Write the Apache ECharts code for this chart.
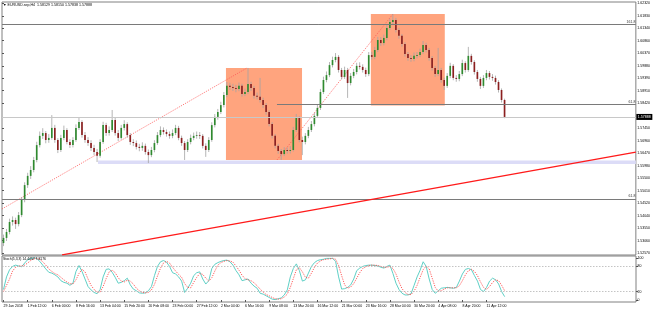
<!DOCTYPE html>
<html><head><meta charset="utf-8">
<script src="https://cdn.jsdelivr.net/npm/echarts@6/dist/echarts.min.js"></script>
<style>html,body{margin:0;padding:0;background:#fff}#c{width:653px;height:311px}</style>
</head><body><div id="c"></div>
<script>
// ---- price data (8-hour candles) ----
const opens = [
1.5297,1.5317,1.5340,1.5379,1.5387,1.5371,1.5406,1.5465,1.5523,1.5559,
1.5582,1.5621,1.5679,1.5715,1.5726,1.5699,1.5707,1.5746,1.5699,1.5660,
1.5707,1.5738,1.5691,1.5679,1.5699,1.5746,1.5769,1.5718,1.5699,1.5687,
1.5668,1.5652,1.5637,1.5691,1.5757,1.5726,1.5738,1.5777,1.5726,1.5707,
1.5746,1.5761,1.5718,1.5691,1.5687,1.5672,1.5668,1.5676,1.5652,1.5640,
1.5660,1.5687,1.5718,1.5738,1.5730,1.5722,1.5715,1.5726,1.5746,1.5707,
1.5687,1.5660,1.5691,1.5707,1.5715,1.5718,1.5715,1.5676,1.5660,1.5699,
1.5757,1.5789,1.5808,1.5835,1.5874,1.5910,1.5906,1.5902,1.5898,1.5910,
1.5878,1.5886,1.5917,1.5902,1.5871,1.5868,1.5855,1.5835,1.5808,1.5761,
1.5715,1.5676,1.5656,1.5644,1.5660,1.5656,1.5660,1.5738,1.5785,1.5699,
1.5691,1.5715,1.5738,1.5761,1.5793,1.5824,1.5886,1.5933,1.5952,1.5991,
1.6011,1.6023,1.5972,1.5945,1.5972,1.5921,1.5949,1.5964,1.5988,1.5984,
1.5972,1.5956,1.6030,1.6023,1.6050,1.6089,1.6077,1.6097,1.6136,1.6159,
1.6167,1.6128,1.6105,1.6073,1.6034,1.6019,1.6015,1.6027,1.6030,1.6042,
1.6069,1.6050,1.6019,1.5980,1.5956,1.5972,1.5933,1.5910,1.5949,1.5988,
1.5941,1.5937,1.5956,1.5999,1.5972,1.6027,1.6003,1.5964,1.5937,1.5910,
1.5941,1.5960,1.5945,1.5941,1.5925,1.5894,1.5855];
const highs = [
1.5330,1.5352,1.5392,1.5401,1.5396,1.5418,1.5476,1.5534,1.5571,1.5597,
1.5633,1.5692,1.5732,1.5745,1.5734,1.5722,1.5796,1.5758,1.5706,1.5719,
1.5755,1.5745,1.5702,1.5710,1.5760,1.5785,1.5776,1.5730,1.5710,1.5698,
1.5680,1.5664,1.5702,1.5770,1.5766,1.5752,1.5816,1.5785,1.5738,1.5758,
1.5776,1.5768,1.5726,1.5702,1.5697,1.5684,1.5690,1.5685,1.5662,1.5672,
1.5698,1.5730,1.5752,1.5748,1.5740,1.5732,1.5740,1.5758,1.5754,1.5716,
1.5695,1.5702,1.5720,1.5728,1.5732,1.5730,1.5722,1.5686,1.5710,1.5768,
1.5800,1.5820,1.5848,1.5886,1.5925,1.5922,1.5918,1.5914,1.5923,1.5918,
1.5899,1.5980,1.5926,1.5910,1.5884,1.5941,1.5864,1.5843,1.5815,1.5768,
1.5722,1.5684,1.5664,1.5671,1.5670,1.5675,1.5750,1.5800,1.5792,1.5712,
1.5726,1.5750,1.5773,1.5805,1.5836,1.5898,1.5946,1.5966,1.6003,1.6024,
1.6038,1.6030,1.5980,1.5985,1.5980,1.5960,1.5976,1.6000,1.6002,1.5994,
1.5981,1.6042,1.6043,1.6062,1.6101,1.6100,1.6110,1.6148,1.6172,1.6190,
1.6175,1.6136,1.6112,1.6080,1.6042,1.6030,1.6040,1.6042,1.6055,1.6085,
1.6078,1.6058,1.6026,1.5988,1.6058,1.5980,1.5942,1.5960,1.6000,1.5995,
1.5952,1.5968,1.6012,1.6006,1.6062,1.6035,1.6010,1.5972,1.5945,1.5952,
1.5972,1.5968,1.5956,1.5950,1.5932,1.5900,1.5860];
const lows = [
1.5285,1.5305,1.5331,1.5365,1.5352,1.5362,1.5398,1.5456,1.5512,1.5547,
1.5573,1.5612,1.5670,1.5703,1.5686,1.5688,1.5700,1.5688,1.5648,1.5652,
1.5698,1.5682,1.5668,1.5670,1.5692,1.5738,1.5708,1.5688,1.5676,1.5656,
1.5640,1.5613,1.5630,1.5684,1.5715,1.5716,1.5730,1.5716,1.5695,1.5700,
1.5736,1.5708,1.5680,1.5675,1.5662,1.5655,1.5657,1.5642,1.5609,1.5632,
1.5651,1.5680,1.5710,1.5720,1.5712,1.5704,1.5706,1.5718,1.5698,1.5676,
1.5621,1.5652,1.5682,1.5698,1.5704,1.5703,1.5666,1.5633,1.5652,1.5692,
1.5748,1.5778,1.5800,1.5826,1.5866,1.5894,1.5890,1.5885,1.5889,1.5868,
1.5870,1.5878,1.5890,1.5860,1.5857,1.5845,1.5824,1.5797,1.5752,1.5705,
1.5666,1.5645,1.5621,1.5636,1.5645,1.5646,1.5654,1.5730,1.5690,1.5640,
1.5682,1.5706,1.5730,1.5752,1.5785,1.5816,1.5878,1.5924,1.5944,1.5982,
1.6002,1.5962,1.5935,1.5937,1.5863,1.5912,1.5940,1.5955,1.5974,1.5962,
1.5945,1.5948,1.6012,1.6014,1.6042,1.6066,1.6068,1.6088,1.6128,1.6148,
1.6118,1.6094,1.6063,1.6024,1.6008,1.6004,1.6006,1.6017,1.6022,1.6034,
1.6040,1.6008,1.5970,1.5945,1.5948,1.5922,1.5894,1.5902,1.5940,1.5932,
1.5926,1.5928,1.5948,1.5962,1.5965,1.5993,1.5954,1.5926,1.5898,1.5902,
1.5932,1.5935,1.5930,1.5915,1.5884,1.5845,1.57838];
const closes = [
1.5317,1.5340,1.5379,1.5387,1.5371,1.5406,1.5465,1.5523,1.5559,1.5582,
1.5621,1.5679,1.5715,1.5726,1.5699,1.5707,1.5746,1.5699,1.5660,1.5707,
1.5738,1.5691,1.5679,1.5699,1.5746,1.5769,1.5718,1.5699,1.5687,1.5668,
1.5652,1.5637,1.5691,1.5757,1.5726,1.5738,1.5777,1.5726,1.5707,1.5746,
1.5761,1.5718,1.5691,1.5687,1.5672,1.5668,1.5676,1.5652,1.5640,1.5660,
1.5687,1.5718,1.5738,1.5730,1.5722,1.5715,1.5726,1.5746,1.5707,1.5687,
1.5660,1.5691,1.5707,1.5715,1.5718,1.5715,1.5676,1.5660,1.5699,1.5757,
1.5789,1.5808,1.5835,1.5874,1.5910,1.5906,1.5902,1.5898,1.5910,1.5878,
1.5886,1.5917,1.5902,1.5871,1.5868,1.5855,1.5835,1.5808,1.5761,1.5715,
1.5676,1.5656,1.5644,1.5660,1.5656,1.5660,1.5738,1.5785,1.5699,1.5691,
1.5715,1.5738,1.5761,1.5793,1.5824,1.5886,1.5933,1.5952,1.5991,1.6011,
1.6023,1.5972,1.5945,1.5972,1.5921,1.5949,1.5964,1.5988,1.5984,1.5972,
1.5956,1.6030,1.6023,1.6050,1.6089,1.6077,1.6097,1.6136,1.6159,1.6167,
1.6128,1.6105,1.6073,1.6034,1.6019,1.6015,1.6027,1.6030,1.6042,1.6069,
1.6050,1.6019,1.5980,1.5956,1.5972,1.5933,1.5910,1.5949,1.5988,1.5941,
1.5937,1.5956,1.5999,1.5972,1.6027,1.6003,1.5964,1.5937,1.5910,1.5941,
1.5960,1.5945,1.5941,1.5925,1.5894,1.5855,1.57888];

// ---- stochastic (5,3,3) ----
const stochMain = [
25,55,72,80,83,81,79,88,96,99, 100,99,92,83,74,66,64,60,55,46,
42,40,35,40,68,82,68,50,32,24, 18,15,25,55,73,74,66,54,40,42,
46,52,36,26,22,17,16,17,22,32, 58,80,91,94,90,80,65,62,55,45,
18,28,40,58,65,67,50,38,46,75, 85,89,92,94,95,91,83,70,60,46,
48,50,40,33,28,16,14,10,6,2, 1,3,5,12,24,55,75,86,70,45,
48,64,80,89,94,96,97,99,99,99, 92,55,26,27,30,36,50,70,76,80,
82,83,83,82,81,78,76,80,83,63, 40,25,16,12,12,15,35,55,71,91,
80,50,25,16,22,28,29,30,29,28, 30,45,62,73,75,72,58,45,25,20,
30,45,52,48,38,20,8];
const stochSignal = [
20,35,50,69,78,81,81,83,88,94, 98,99,97,91,83,74,68,63,60,54,
48,43,39,38,48,63,73,67,50,35, 25,19,19,32,51,67,71,65,53,45,
43,47,45,38,28,22,18,17,18,24, 37,57,76,88,92,88,78,69,61,54,
39,30,29,42,54,63,61,52,45,53, 69,83,89,92,94,93,90,81,71,59,
51,48,46,41,34,26,19,13,10,6, 3,2,3,7,14,30,51,72,77,67,
54,52,64,78,88,93,96,97,98,99, 97,82,58,36,28,31,39,52,65,75,
79,82,83,83,82,80,78,78,80,75, 62,43,27,18,13,13,21,35,54,72,
81,74,52,30,21,22,26,29,29,29, 29,34,46,60,70,73,68,58,43,30,
25,32,42,48,46,35,22];

// ---- axis tick labels ----
const xTickLabels = ["29 Jan 2018","1 Feb 12:00","6 Feb 00:00","8 Feb 16:00","13 Feb 04:00","15 Feb 20:00",
"20 Feb 08:00","23 Feb 00:00","27 Feb 12:00","2 Mar 04:00","6 Mar 16:00","9 Mar 08:00","13 Mar 20:00",
"16 Mar 12:00","21 Mar 00:00","23 Mar 16:00","28 Mar 04:00","30 Mar 20:00","4 Apr 08:00","8 Apr 20:00","11 Apr 12:00"];
const priceTicks = [1.52570,1.53060,1.53550,1.54040,1.54520,1.55010,1.55500,1.55980,1.56470,1.56960,
1.57450,1.58420,1.58910,1.59390,1.59880,1.60370,1.60860,1.61340,1.61830,1.62320];
const stochTicks = [0,20,80,100];
const stochLevels = [20,80];

// ---- drawn objects (x in bar slots, y in price) ----
const zones = [[74.2, 99.4, 1.5980, 1.5621],[122.2, 146.7, 1.6190, 1.5833]];
const supportBand = [31.8, 210, 1.5619, 1.5605];
const fibLevels = [{name:'161.8', price:1.6151, from:0},{name:'61.8', price:1.5839, from:91.1},{name:'61.8', price:1.5469, from:0}];
const trendLine = [[19.9, 1.5251],[210, 1.5652]];
const fibDiag1 = [[0, 1.5430],[81.2, 1.5980]];
const fibDiag2 = [[91.1, 1.5621],[129.5, 1.6190]];

const TOTAL_SLOTS = 210, LABEL_EVERY = 8;
const PRICE_MIN = 1.52504, PRICE_MAX = 1.62371;
const lastPrice = closes[closes.length-1];

const slots = Array.from({length: TOTAL_SLOTS}, (_, i) => String(i));
const candleData = opens.map((o, i) => [i, o, closes[i], lows[i], highs[i]]);
const FONT = 'Liberation Sans';
const isLabelSlot = (idx) => idx % LABEL_EVERY === 0 && idx / LABEL_EVERY < xTickLabels.length;

function renderCandle(params, api) {
  const i = api.value(0), o = api.value(1), c = api.value(2), l = api.value(3), h = api.value(4);
  const pO = api.coord([i, o]), pC = api.coord([i, c]), pL = api.coord([i, l]), pH = api.coord([i, h]);
  const bw = api.size([1, 0])[0] * 0.55;
  const x = pO[0];
  const top = Math.min(pO[1], pC[1]), bot = Math.max(pO[1], pC[1]);
  const up = c >= o;
  return {type: 'group', children: [
    {type: 'line', shape: {x1: x, y1: pH[1], x2: x, y2: pL[1]}, style: {stroke: '#a3a3a3', lineWidth: 0.8}},
    {type: 'rect', shape: {x: x - bw / 2, y: top, width: bw, height: Math.max(bot - top, 0.8)},
     style: {fill: up ? '#2f8a2f' : '#8b1f1f'}}
  ]};
}

const chart = echarts.init(document.getElementById('c'), null, {renderer: 'canvas'});
chart.setOption({
  animation: false,
  backgroundColor: '#ffffff',
  textStyle: {fontFamily: FONT},
  title: [
    {text: '\u25BC EURUSD.sep,H4  1.58129 1.58150 1.57838 1.57888', left: 3, top: 3, padding: 0,
     textStyle: {fontSize: 3.6, fontWeight: 'normal', color: '#000', fontFamily: FONT}},
    {text: 'Stoch(5,3,3) 14.4457 7.8176', left: 3, top: 258, padding: 0,
     textStyle: {fontSize: 3.4, fontWeight: 'normal', color: '#000', fontFamily: FONT}}
  ],
  grid: [
    {left: 2, width: 634, top: 2, height: 253, show: true, borderColor: '#808080', borderWidth: 1, backgroundColor: 'transparent'},
    {left: 2, width: 634, top: 256, height: 46, show: true, borderColor: '#808080', borderWidth: 1, backgroundColor: 'transparent'}
  ],
  xAxis: [
    {type: 'category', gridIndex: 0, data: slots, boundaryGap: true, show: false},
    {type: 'value', gridIndex: 0, min: 0, max: TOTAL_SLOTS, show: false},
    {type: 'category', gridIndex: 1, data: slots, boundaryGap: true,
     axisLine: {show: false},
     axisTick: {show: true, interval: isLabelSlot, length: 2, alignWithLabel: true, lineStyle: {color: '#555'}},
     axisLabel: {interval: isLabelSlot, formatter: (v, idx) => xTickLabels[idx / LABEL_EVERY] || '',
                 align: 'left', fontSize: 3.5, color: '#000', margin: 2.5, fontFamily: FONT},
     splitLine: {show: false}}
  ],
  yAxis: [
    {type: 'value', gridIndex: 0, position: 'right', min: PRICE_MIN, max: PRICE_MAX, scale: true,
     axisLine: {show: false}, splitLine: {show: false},
     axisTick: {show: true, customValues: priceTicks, length: 2, lineStyle: {color: '#555'}},
     axisLabel: {customValues: priceTicks, formatter: v => v.toFixed(5), fontSize: 3.5, color: '#000', margin: 1.5, fontFamily: FONT}},
    {type: 'value', gridIndex: 1, position: 'right', min: -4.76, max: 104.76,
     axisLine: {show: false}, splitLine: {show: false},
     axisTick: {show: true, customValues: stochTicks, length: 2, lineStyle: {color: '#555'}},
     axisLabel: {customValues: stochTicks, fontSize: 3.5, color: '#000', margin: 1.5, fontFamily: FONT}}
  ],
  series: [
    {name: 'fib-diag-1', type: 'line', xAxisIndex: 1, yAxisIndex: 0, data: fibDiag1, showSymbol: false, z: 1,
     lineStyle: {color: '#ff5a5a', width: 0.8, type: [1.2, 1.2]},
     markArea: {silent: true, z: 0,
       data: zones.map(zn => [{coord: [zn[0], zn[2]], itemStyle: {color: '#ffa47e', opacity: 1}}, {coord: [zn[1], zn[3]]}])
         .concat([[{coord: [supportBand[0], supportBand[2]], itemStyle: {color: '#dcdcf7', opacity: 1}}, {coord: [supportBand[1], supportBand[3]]}]])}},
    {name: 'fib-diag-2', type: 'line', xAxisIndex: 1, yAxisIndex: 0, data: fibDiag2, showSymbol: false, z: 1,
     lineStyle: {color: '#ff5a5a', width: 0.8, type: [1.2, 1.2]}},
    {name: 'price', type: 'custom', xAxisIndex: 0, yAxisIndex: 0, data: candleData, renderItem: renderCandle,
     encode: {x: 0, y: [1, 2, 3, 4]}, clip: true, z: 2},
    {name: 'trend', type: 'line', xAxisIndex: 1, yAxisIndex: 0, data: trendLine, showSymbol: false, z: 3,
     lineStyle: {color: '#ff1a1a', width: 1.3},
     markLine: {silent: true, symbol: ['none', 'none'], z: 3,
       data: fibLevels.map(f => [
         {coord: [f.from, f.price], lineStyle: {color: '#7a7a7a', width: 1, type: 'solid'},
          label: {show: true, position: 'insideEndTop', formatter: f.name, fontSize: 3.5, color: '#333', distance: 0.5, fontFamily: FONT}},
         {coord: [TOTAL_SLOTS, f.price]}]).concat([[
         {coord: [0, lastPrice], lineStyle: {color: '#c8c8c8', width: 1, type: 'solid'},
          label: {show: true, position: 'end', formatter: lastPrice.toFixed(5), fontSize: 3.6, color: '#fff',
                  backgroundColor: '#000', padding: [1, 1.5], distance: 0.5, fontFamily: FONT}},
         {coord: [TOTAL_SLOTS, lastPrice]}]])}},
    {name: 'stoch-main', type: 'line', xAxisIndex: 2, yAxisIndex: 1, data: stochMain, showSymbol: false,
     lineStyle: {color: '#5fd0c6', width: 1}, z: 3,
     markLine: {silent: true, symbol: ['none', 'none'], label: {show: false},
       lineStyle: {color: '#b5b5b5', width: 0.8, type: [1.5, 1.5]},
       data: stochLevels.map(v => ({yAxis: v}))}},
    {name: 'stoch-signal', type: 'line', xAxisIndex: 2, yAxisIndex: 1, data: stochSignal, showSymbol: false,
     lineStyle: {color: '#ff4a4a', width: 0.9, type: [1.2, 1.2]}, z: 4}
  ]
});
</script></body></html>
